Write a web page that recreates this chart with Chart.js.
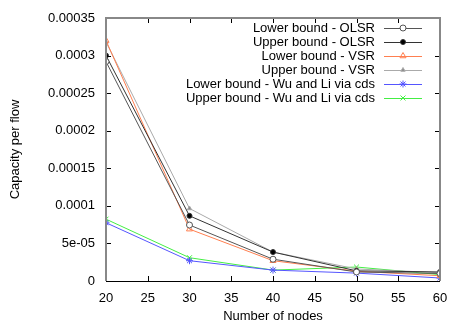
<!DOCTYPE html>
<html>
<head>
  <title>Capacity per flow</title>
  <script src="https://cdn.jsdelivr.net/npm/chart.js@4"></script>
  <style>
    body { margin: 0; background: #fff; }
  </style>
</head>
<body>
  <canvas id="myChart" width="463" height="324"></canvas>
  <script>
    var nodes = [20, 30, 40, 50, 60];
    var xTicks = [20, 25, 30, 35, 40, 45, 50, 55, 60];
    var yTicks = [0, 0.00005, 0.0001, 0.00015, 0.0002, 0.00025, 0.0003, 0.00035];
    var yTickLabels = ['0', '5e-05', '0.0001', '0.00015', '0.0002', '0.00025', '0.0003', '0.00035'];

    var lowerOlsr = [0.000292, 0.0000745, 0.000029, 0.000012, 0.0000100];
    var upperOlsr = [0.000300, 0.0000867, 0.0000385, 0.0000135, 0.0000120];
    var lowerVsr  = [0.000320, 0.0000690, 0.000027, 0.000013, 0.0000070];
    var upperVsr  = [0.000318, 0.0000965, 0.0000385, 0.000016, 0.0000110];
    var lowerWu   = [0.0000775, 0.000027, 0.0000145, 0.0000105, 0.0000040];
    var upperWu   = [0.0000823, 0.000031, 0.0000145, 0.0000186, 0.0000085];

    function series(label, values, color, style, radius, fill) {
      return {
        label: label,
        data: values.map((v, i) => ({ x: nodes[i], y: v })),
        borderColor: color,
        backgroundColor: fill,
        pointBorderColor: color,
        pointBackgroundColor: fill,
        pointStyle: style,
        pointRadius: radius,
        pointBorderWidth: 1,
        borderWidth: 1,
        tension: 0
      };
    }

    var datasets = [
      series('Lower bound - OLSR', lowerOlsr, '#555555', 'circle', 3, '#ffffff'),
      series('Upper bound - OLSR', upperOlsr, '#333333', 'circle', 2.5, '#000000'),
      series('Lower bound - VSR', lowerVsr, '#ff7f50', 'triangle', 3.5, 'rgba(255,255,255,0)'),
      series('Upper bound - VSR', upperVsr, '#aaaaaa', 'triangle', 2.5, '#888888'),
      series('Lower bound - Wu and Li via cds', lowerWu, '#5555ff', 'star', 3.5, '#5555ff'),
      series('Upper bound - Wu and Li via cds', upperWu, '#44ee44', 'crossRot', 3.5, '#44ee44')
    ];

    // gnuplot style frame, inward ticks and a key inside the plot
    var framePlugin = {
      id: 'frame',
      afterDatasetsDraw(chart) {
        var ctx = chart.ctx;
        var a = chart.chartArea;
        var xs = chart.scales.x, ys = chart.scales.y;
        ctx.save();
        ctx.strokeStyle = '#000';
        ctx.lineWidth = 1;
        ctx.beginPath();
        xTicks.forEach(t => {
          var px = Math.round(xs.getPixelForValue(t)) + 0.5;
          ctx.moveTo(px, a.bottom); ctx.lineTo(px, a.bottom - 5);
          ctx.moveTo(px, a.top); ctx.lineTo(px, a.top + 5);
        });
        yTicks.forEach(t => {
          var py = Math.round(ys.getPixelForValue(t)) + 0.5;
          ctx.moveTo(a.left, py); ctx.lineTo(a.left + 5, py);
          ctx.moveTo(a.right, py); ctx.lineTo(a.right - 5, py);
        });
        ctx.stroke();

        ctx.strokeStyle = '#888';
        ctx.lineWidth = 2;
        ctx.beginPath();
        ctx.moveTo(a.left, a.bottom);
        ctx.lineTo(a.left, a.top);
        ctx.lineTo(a.right, a.top);
        ctx.lineTo(a.right, a.bottom);
        ctx.stroke();
        ctx.strokeStyle = '#000';
        ctx.lineWidth = 1;
        ctx.beginPath();
        ctx.moveTo(a.left, Math.round(a.bottom) + 0.5);
        ctx.lineTo(a.right, Math.round(a.bottom) + 0.5);
        ctx.stroke();

        // key
        ctx.font = '13px "Liberation Sans", Arial, sans-serif';
        ctx.textAlign = 'right';
        ctx.textBaseline = 'middle';
        chart.data.datasets.forEach((ds, i) => {
          var y = 28 + i * 14;
          ctx.fillStyle = '#000';
          ctx.fillText(ds.label, 375, y);
          ctx.strokeStyle = ds.borderColor;
          ctx.lineWidth = 1;
          ctx.beginPath();
          ctx.moveTo(384, y + 0.5);
          ctx.lineTo(422, y + 0.5);
          ctx.stroke();
          ctx.fillStyle = ds.pointBackgroundColor;
          ctx.strokeStyle = ds.pointBorderColor;
          Chart.helpers.drawPoint(ctx, {
            pointStyle: ds.pointStyle,
            radius: ds.pointRadius,
            borderWidth: 1,
            rotation: 0
          }, 403, y);
        });
        ctx.restore();
      }
    };

    var font = { family: '"Liberation Sans", Arial, sans-serif', size: 13 };

    new Chart(document.getElementById('myChart'), {
      type: 'line',
      data: { datasets: datasets },
      options: {
        responsive: false,
        animation: false,
        layout: { padding: { top: 18, right: 23, left: 0, bottom: 0 } },
        plugins: { legend: { display: false }, tooltip: { enabled: false } },
        scales: {
          x: {
            type: 'linear',
            min: 20,
            max: 60,
            afterBuildTicks(s) { s.ticks = xTicks.map(v => ({ value: v })); },
            afterFit(s) { s.height = 43; },
            grid: { display: false },
            border: { display: false },
            ticks: { color: '#000', font: font, padding: 2, maxRotation: 0 },
            title: { display: true, text: 'Number of nodes', color: '#000', font: font, padding: { top: 4, bottom: 0 } }
          },
          y: {
            type: 'linear',
            min: 0,
            max: 0.00035,
            afterBuildTicks(s) { s.ticks = yTicks.map(v => ({ value: v })); },
            afterFit(s) { s.width = 106; },
            grid: { display: false },
            border: { display: false },
            ticks: {
              color: '#000', font: font, padding: 3,
              callback: (v) => yTickLabels[yTicks.indexOf(v)] !== undefined ? yTickLabels[yTicks.indexOf(v)] : ''
            },
            title: { display: true, text: 'Capacity per flow', color: '#000', font: font, padding: { top: 8, bottom: 2 } }
          }
        }
      },
      plugins: [framePlugin]
    });
  </script>
</body>
</html>
